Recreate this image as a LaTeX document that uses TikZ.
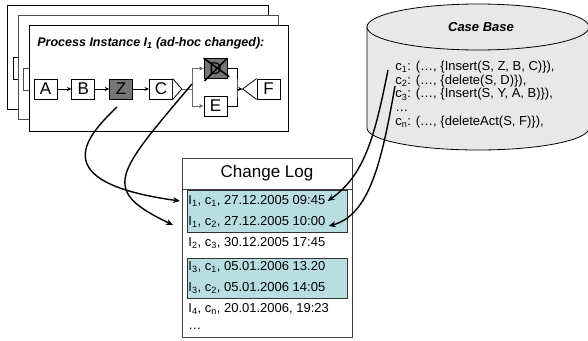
\documentclass[tikz,border=0pt]{standalone}
\usepackage{fontspec}
\setmainfont{Liberation Sans}
\usetikzlibrary{positioning,arrows.meta}
\definecolor{actgray}{RGB}{118,118,118}
\definecolor{logfill}{RGB}{184,222,225}
\definecolor{basefill}{RGB}{232,232,232}

\begin{document}
\begin{tikzpicture}[x=1pt,y=-1pt,node distance=14pt,line width=.8pt,
	act/.style={draw,fill=white,minimum width=23pt,minimum height=20pt,inner sep=0pt,font=\fontsize{17}{17}\selectfont},
	done/.style={act,fill=actgray},
	flow/.style={-{Stealth[length=4.5pt,width=4pt]},line width=.8pt},
	link/.style={-{Stealth[length=7pt,width=6pt]},line width=1.4pt},
	entry/.style={anchor=west,inner sep=1pt,font=\fontsize{13}{13}\selectfont}]
	\useasboundingbox (0,0) rectangle (588,340);

	% instance stack
	\draw[fill=white] (7,5) rectangle (268,109);
	\draw (13,57) rectangle (18,79);
	\draw[black!70,fill=white] (18,15) rectangle (278,119);
	\draw[black!70] (23,68) rectangle (29,90);
	\draw[fill=white] (29,25) rectangle (288,131);
	\node[anchor=west,inner sep=0pt,font=\fontsize{12.5}{13}\selectfont\bfseries\itshape] (title) at (37,43) {Process Instance I\textsubscript{1} (ad-hoc changed):};

	\node[act] (A) at (45.5,89) {A};
	\node[act,right=of A] (B) {B};
	\node[done,right=of B] (Z) {Z};
	\node[act,right=16pt of Z] (C) {C};
	\node[done] (D) at (215.5,68.5) {D};
	\node[act] (E) at (215.5,106) {E};
	\node[act] (F) at (268.5,89) {F};
	\coordinate (xs) at ([xshift=9pt]C.east);
	\coordinate (sp) at (192,89);
	\coordinate (jn) at (237,89);
	\coordinate (xj) at ([xshift=-14pt]F.west);
	\draw[fill=white] (C.north east) -- (xs) -- (C.south east);
	\draw[fill=white] (F.north west) -- (xj) -- (F.south west);
	\draw[flow] (A) -- (B);
	\draw[flow] (B) -- (Z);
	\draw[flow] (Z) -- (C);
	\draw[black!60] (xs) -- (sp);
	\draw[flow,black!60] (sp) |- (D);
	\draw[flow,black!60] (sp) |- (E);
	\draw (D) -| (jn) |- (E);
	\draw[flow] (jn) -- (xj);
	\draw[line width=1.5pt] (D.north west) -- ([xshift=2pt,yshift=2pt]D.south east)
		(D.north east) -- ([xshift=1pt,yshift=-2pt]D.south west);

	% case base
	\draw[fill=basefill] (367,27) -- (367,128) arc[start angle=180,end angle=360,x radius=111pt,y radius=22pt] -- (589,27) -- cycle;
	\draw[fill=basefill] (478,27) ellipse [x radius=111pt,y radius=23pt];
	\node[font=\fontsize{13}{13}\selectfont\bfseries\itshape] (base) at (481,27) {Case Base};
	\node[anchor=west,align=left,inner sep=0pt,font=\fontsize{13}{13.7}\selectfont] (cases) at (395,94.5)
		{c\textsubscript{1}: (…, \{Insert(S, Z, B, C)\}),\\
		 c\textsubscript{2}: (…, \{delete(S, D)\}),\\
		 c\textsubscript{3}: (…, \{Insert(S, Y, A, B)\}),\\
		 …\\
		 c\textsubscript{n}: (…, \{deleteAct(S, F)\}),};
	\coordinate (cb1) at (388,70);
	\coordinate (cb2) at (395,86);

	% change log
	\draw[black!75,fill=white] (182,158) rectangle (352,337);
	\draw[black!75] (182,189) -- (352,189);
	\node[font=\fontsize{17}{17}\selectfont] (log) at (267,173) {Change Log};
	\draw[black!80,line width=1pt,fill=logfill] (187,190) rectangle (347,232);
	\draw[black!80,line width=1pt,fill=logfill] (187,258) rectangle (347,298);
	\node[entry] (r1) at (187,201) {I\textsubscript{1}, c\textsubscript{1}, 27.12.2005 09:45};
	\node[entry] (r2) at (187,222) {I\textsubscript{1}, c\textsubscript{2}, 27.12.2005 10:00};
	\node[entry] (r3) at (187,243) {I\textsubscript{2}, c\textsubscript{3}, 30.12.2005 17:45};
	\node[entry] (r4) at (187,267) {I\textsubscript{3}, c\textsubscript{1}, 05.01.2006 13.20};
	\node[entry] (r5) at (187,288) {I\textsubscript{3}, c\textsubscript{2}, 05.01.2006 14:05};
	\node[entry] (r6) at (187,309) {I\textsubscript{4}, c\textsubscript{n}, 20.01.2006, 19:23};
	\node[entry] (r7) at (187,329) {…};

	% references
	\coordinate (zfoot) at (117,107);
	\coordinate (dfoot) at (192,84);
	\draw[link] (zfoot) .. controls (88,135) and (42,182) .. ([xshift=-7pt]r1.west);
	\draw[link] (dfoot) .. controls (115,175) and (100,190) .. ([xshift=-14pt,yshift=-3pt]r2.west);
	\draw[link] (cb1) .. controls (375,135) and (365,175) .. ([xshift=1pt]r1.east);
	\draw[link] (cb2) .. controls (382,160) and (370,215) .. ([xshift=2pt,yshift=-4pt]r2.east);
\end{tikzpicture}
\end{document}
